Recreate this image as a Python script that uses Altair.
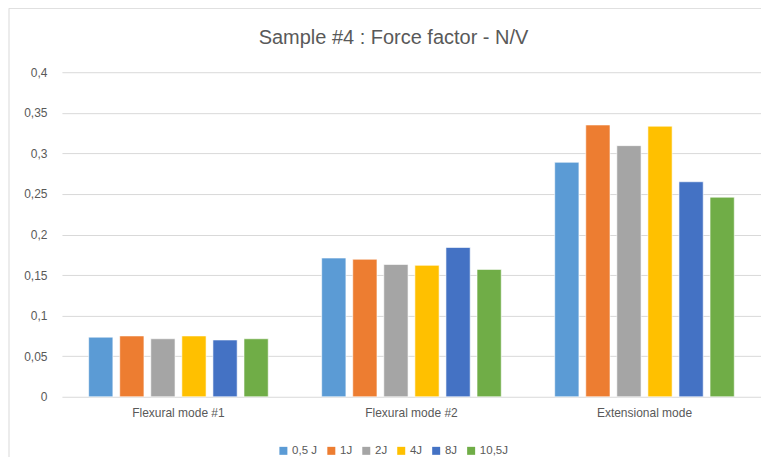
import altair as alt
import pandas as pd

categories = ["Flexural mode #1", "Flexural mode #2", "Extensional mode"]
series = ["0,5 J", "1J", "2J", "4J", "8J", "10,5J"]
v_05J = [0.0735, 0.171, 0.289]
v_1J = [0.075, 0.1695, 0.335]
v_2J = [0.0715, 0.163, 0.3095]
v_4J = [0.075, 0.162, 0.3335]
v_8J = [0.070, 0.184, 0.265]
v_105J = [0.0715, 0.157, 0.246]
colors = ["#5B9BD5", "#ED7D31", "#A5A5A5", "#FFC000", "#4472C4", "#70AD47"]
y_ticks = [0, 0.05, 0.1, 0.15, 0.2, 0.25, 0.3, 0.35, 0.4]

rows = []
for s, vals in zip(series, [v_05J, v_1J, v_2J, v_4J, v_8J, v_105J]):
    for c, v in zip(categories, vals):
        rows.append({"category": c, "series": s, "value": v})
df = pd.DataFrame(rows)

FONT = "Liberation Sans"
GRAY = "#595959"

bars = alt.Chart(df).mark_bar(stroke="white", strokeOpacity=0.6, strokeWidth=1).encode(
    x=alt.X("category:N", sort=categories,
            scale=alt.Scale(paddingInner=0.2, paddingOuter=0.1),
            axis=alt.Axis(title=None, labelAngle=0, domain=False, ticks=False,
                          labelPadding=11, labelFontSize=12, labelColor=GRAY,
                          labelFont=FONT, grid=False)),
    xOffset=alt.XOffset("series:N", sort=series,
                        scale=alt.Scale(paddingInner=0.22, paddingOuter=0.11)),
    y=alt.Y("value:Q", scale=alt.Scale(domain=[0, 0.4], nice=False),
            axis=alt.Axis(values=y_ticks, title=None, domain=False, ticks=False,
                          labelExpr="replace(format(datum.value, '.2~f'), '.', ',')",
                          gridColor="#d9d9d9", gridWidth=1, labelPadding=15,
                          labelFontSize=12, labelColor=GRAY, labelFont=FONT)),
    color=alt.Color("series:N", sort=series,
                    scale=alt.Scale(domain=series, range=colors),
                    legend=alt.Legend(title=None, orient="none", legendX=216, legendY=373,
                                      direction="horizontal", symbolType="square",
                                      symbolSize=64, symbolStrokeWidth=0,
                                      labelFontSize=11.5, labelColor=GRAY, labelFont=FONT,
                                      columnPadding=8, labelOffset=3)),
)

frame = pd.DataFrame({"a": [0]})
left_border = alt.Chart(frame).mark_rule(color="#d9d9d9", strokeWidth=1).encode(
    x=alt.value(-53), y=alt.value(-64), y2=alt.value(401))
top_border = alt.Chart(frame).mark_rule(color="#d9d9d9", strokeWidth=1).encode(
    x=alt.value(-53), x2=alt.value(707), y=alt.value(-64))

chart = alt.layer(bars, left_border, top_border).properties(
    width=700, height=325,
    title=alt.TitleParams("Sample #4 : Force factor - N/V", fontSize=20, font=FONT,
                          color=GRAY, fontWeight="normal", anchor="middle", dx=-18, offset=-40),
    autosize=alt.AutoSizeParams(type="none"),
    padding={"left": 54, "top": 64, "right": 0, "bottom": 60},
).configure_view(strokeWidth=0)

chart.save("out.html", embed_options={"renderer": "svg", "actions": False})
